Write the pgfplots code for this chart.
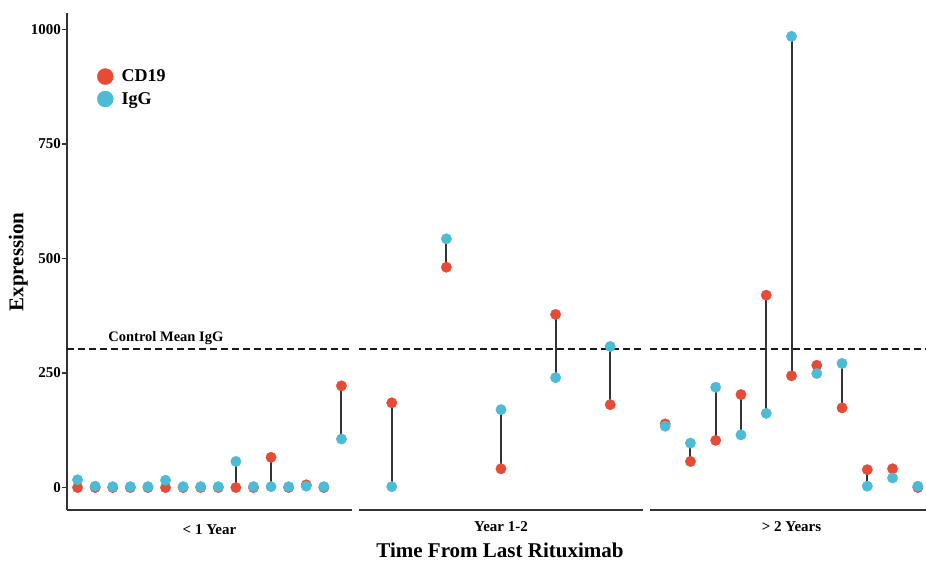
\documentclass[border=0pt]{standalone}
\usepackage{fontspec}
\setmainfont{Liberation Serif}
\usepackage{pgfplots}
\usepackage{pgfplotstable}
\pgfplotsset{compat=1.18}
\definecolor{cdred}{HTML}{E64B35}
\definecolor{iggblue}{HTML}{4DBBD5}
\definecolor{axgray}{HTML}{333333}

\pgfplotstableread{
x cd19 igg
1 0 17
2 0 3
3 0 2
4 0 2
5 0 2
6 0 16
7 0 2
8 0 2
9 0 2
10 0 57
11 0 2
12 66 2
13 0 2
14 6 3
15 0 2
16 222 106
}\tA
\pgfplotstableread{
x cd19 igg
1 185 2
2 481 543
3 41 170
4 378 240
5 181 308
}\tB
\pgfplotstableread{
x cd19 igg
1 139 134
2 57 97
3 103 219
4 203 115
5 420 162
6 244 985
7 267 249
8 174 271
9 39 3
10 41 21
11 0 3
}\tC

\pgfplotsset{
  panel/.style={
    scale only axis, anchor=south west, height=497pt,
    ymin=-49, ymax=1036, xmin=0.4,
    axis x line=bottom,
    axis line style={-, draw=axgray, line width=1.1pt},
    clip=false,
    major x tick style={draw=none},
    xticklabel style={font=\fontsize{15}{18}\selectfont\bfseries, yshift=-6pt},
    /pgf/number format/assume math mode=true,
    /pgf/number format/1000 sep={},
  },
  seg/.style={forget plot, draw=none, mark=none,
    error bars/.cd, y dir=both, y explicit, error mark=none,
    error bar style={draw=axgray, line width=2pt}},
  redpt/.style={forget plot, only marks, mark=*, mark size=5.2pt, color=cdred},
  bluept/.style={forget plot, only marks, mark=*, mark size=5.2pt, color=iggblue},
  ctrl/.style={forget plot, black!90, line width=1.6pt, dash pattern=on 6.5pt off 4.5pt},
}
\newcommand{\segplot}[1]{%
  \addplot[seg] table[x=x, y expr={(\thisrow{cd19}+\thisrow{igg})/2},
    y error expr={abs(\thisrow{igg}-\thisrow{cd19})/2}] {#1};}

\begin{document}
\begin{tikzpicture}
\useasboundingbox (0,0) rectangle (926pt,560pt);

\begin{axis}[panel, at={(67pt,50pt)}, width=285pt, xmax=16.6,
  axis y line=left,
  y axis line style={-, draw=axgray, line width=1.1pt},
  ytick={0,250,500,750,1000},
  tick align=outside, major tick length=5pt,
  major y tick style={draw=axgray, line width=1.1pt},
  yticklabel style={font=\fontsize{15}{18}\selectfont\bfseries, inner sep=1pt},
  xtick={8.5}, xticklabels={{< 1 Year}},
  legend style={draw=none, fill=none, at={(axis description cs:0.105,0.890)}, anchor=north west,
    font=\fontsize{18}{20}\selectfont\bfseries, row sep=5pt, column sep=6pt, inner sep=0pt},
  legend cell align=left,
]
\addlegendimage{legend image code/.code={\fill[cdred] (8pt,0pt) circle (8pt);}}
\addlegendentry{CD19}
\addlegendimage{legend image code/.code={\fill[iggblue] (8pt,0pt) circle (8pt);}}
\addlegendentry{IgG}
\addplot[ctrl] coordinates {(0.4,303) (16.6,303)};
\segplot{\tA}
\addplot[redpt] table[x=x, y=cd19] {\tA};
\addplot[bluept] table[x=x, y=igg] {\tA};
\node[font=\fontsize{14.5}{17}\selectfont\bfseries, anchor=base] at (axis cs:6.02,318.7) {Control Mean IgG};
\end{axis}

\begin{axis}[panel, at={(359pt,50pt)}, width=284pt, xmax=5.6,
  hide y axis,
  xtick={3}, xticklabels={{Year 1-2}},
]
\addplot[ctrl] coordinates {(0.4,303) (5.6,303)};
\segplot{\tB}
\addplot[redpt] table[x=x, y=cd19] {\tB};
\addplot[bluept] table[x=x, y=igg] {\tB};
\end{axis}

\begin{axis}[panel, at={(650pt,50pt)}, width=283pt, xmax=11.6,
  hide y axis,
  xtick={6}, xticklabels={{> 2 Years}},
]
\addplot[ctrl] coordinates {(0.4,303) (11.6,303)};
\segplot{\tC}
\addplot[redpt] table[x=x, y=cd19] {\tC};
\addplot[bluept] table[x=x, y=igg] {\tC};
\end{axis}

\node[font=\fontsize{21}{24}\selectfont\bfseries, anchor=base, inner sep=0pt] at (500pt,3pt) {Time From Last Rituximab};
\node[font=\fontsize{21}{24}\selectfont\bfseries, anchor=base, rotate=90] at (23.3pt,298pt) {Expression};
\end{tikzpicture}
\end{document}
